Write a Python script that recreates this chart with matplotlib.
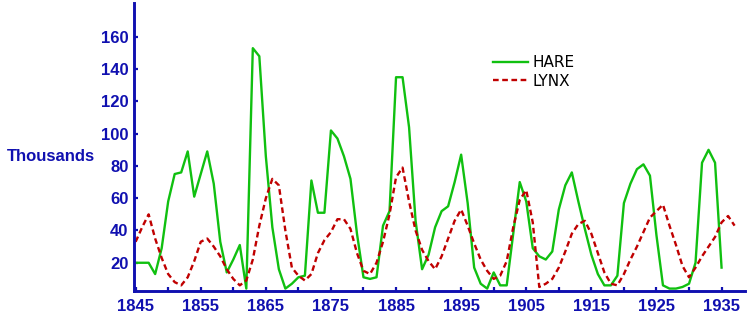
import numpy as np
import matplotlib
matplotlib.use("Agg")
from matplotlib import pyplot as plt

# hare and lynx pelts, thousands
hare_years = list(range(1845, 1936))
hare = [20, 20, 20, 13, 29, 58, 75, 76, 89, 61,
        75, 89, 69, 33, 14, 22, 31, 4, 153, 148,
        86, 42, 16, 4, 7, 11, 12, 71, 51, 51,
        102, 97, 86, 72, 38, 11, 10, 11, 43, 52,
        135, 135, 104, 46, 16, 25, 42, 52, 55, 70,
        87, 57, 17, 7, 4, 14, 6, 6, 38, 70,
        58, 29, 24, 22, 27, 53, 68, 76, 58, 41,
        25, 13, 6, 6, 12, 57, 69, 78, 81, 74,
        37, 6, 4, 4, 5, 7, 20, 82, 90, 82,
        17]

lynx_years = list(range(1845, 1938))
lynx = [33, 42, 50, 35, 23, 13, 8, 6, 11, 21,
        33, 35, 30, 24, 16, 10, 6, 9, 22, 43,
        60, 72, 68, 40, 17, 12, 9, 13, 26, 34,
        39, 47, 47, 41, 26, 15, 13, 20, 33, 50,
        73, 79, 58, 40, 28, 21, 16, 24, 35, 46,
        53, 43, 32, 22, 15, 10, 12, 21, 42, 59,
        65, 45, 5, 7, 10, 17, 27, 38, 44, 46,
        38, 26, 14, 7, 6, 13, 22, 30, 39, 48,
        52, 56, 43, 31, 18, 11, 17, 24, 30, 36,
        45, 49, 43]

year_labels = list(range(1845, 1936, 10))
year_minor = list(range(1850, 1940, 10))
y_ticks = [20, 40, 60, 80, 100, 120, 140, 160]

blue = "#1010B0"
green = "#10C010"
red = "#C00000"

fig = plt.figure(figsize=(7.5, 3.17), dpi=100)
ax = fig.add_axes([134 / 750, 1 - 291 / 317, 611 / 750, 288 / 317])

ax.plot(hare_years, hare, color=green, lw=1.7, label="HARE")
ax.plot(lynx_years, lynx, color=red, lw=1.7, dashes=(2.4, 1.5), label="LYNX")

ax.set_xlim(1844.75, 1938.6)
ax.set_ylim(2.5, 181)

ax.set_xticks(year_labels)
ax.set_xticks(year_minor, minor=True)
ax.set_yticks(y_ticks)

for s in ["top", "right"]:
    ax.spines[s].set_visible(False)
for s in ["left", "bottom"]:
    ax.spines[s].set_color(blue)
    ax.spines[s].set_linewidth(2.1)

ax.tick_params(which="both", direction="in", color=blue, length=3, width=1.6)
ax.tick_params(axis="x", labelcolor=blue, pad=6)
ax.tick_params(axis="y", labelcolor=blue, pad=4)
for lab in ax.get_xticklabels() + ax.get_yticklabels():
    lab.set_fontfamily("Liberation Sans")
    lab.set_fontweight("bold")
    lab.set_fontsize(12)

fig.text(7 / 750, 1 - 156 / 317, "Thousands", color=blue, fontsize=12,
         fontweight="bold", family="Liberation Sans", ha="left", va="center")

ax.legend(loc="upper left", bbox_to_anchor=(493 / 750, 1 - 55 / 317),
          bbox_transform=fig.transFigure, frameon=False, borderpad=0,
          borderaxespad=0, handlelength=2.3, handletextpad=0.3,
          labelspacing=0.25, prop={"family": "DejaVu Sans", "size": 11})

fig.savefig("out.png", dpi=100)
